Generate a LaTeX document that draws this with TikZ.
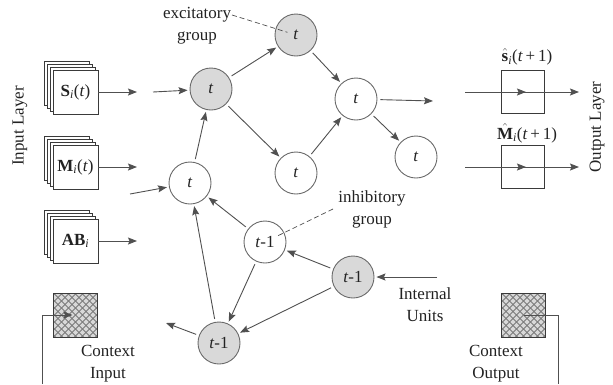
\documentclass[tikz,border=0pt]{standalone}
\usepackage{fontspec}
\setmainfont{Liberation Serif}
\usetikzlibrary{arrows.meta}
\definecolor{linec}{HTML}{505050}
\definecolor{circc}{HTML}{6A6A6A}
\definecolor{grayf}{HTML}{D9D9D9}
\definecolor{boxc}{HTML}{3A3A3A}
\definecolor{txtc}{HTML}{222222}
\definecolor{hatchc}{HTML}{7A7A7A}
\tikzset{
  conn/.style={draw=linec, line width=0.9pt, -{Stealth[length=9pt,width=7pt,inset=1.5pt]}, shorten >=2pt, shorten <=3pt},
  plainline/.style={draw=linec, line width=0.9pt},
  dashline/.style={draw=linec, line width=0.7pt, dash pattern=on 5pt off 3pt},
  neuron/.style={circle, draw=circc, line width=0.9pt, minimum size=42pt, inner sep=0pt, fill=white, text=txtc, font=\fontsize{17}{20}\selectfont},
  grayneuron/.style={neuron, fill=grayf},
  layerbox/.style={draw=boxc, line width=0.8pt, fill=white, minimum width=45pt, minimum height=44pt, inner sep=0pt},
  inbox/.style={layerbox, text=txtc, font=\fontsize{17}{20}\selectfont},
  outbox/.style={draw=boxc, line width=0.8pt, minimum width=43pt, minimum height=43pt, inner sep=0pt},
  lbl/.style={font=\fontsize{17}{22}\selectfont, text=txtc, inner sep=0pt, align=center},
  hatchbox/.style={draw=boxc, line width=0.8pt, fill=grayf, minimum width=44pt, minimum height=44pt, inner sep=0pt,
    path picture={
      \foreach \k in {-63,-56,...,63}{
        \draw[hatchc, line width=0.8pt] ([xshift=\k pt]path picture bounding box.center) ++(-30pt,-30pt) -- ++(60pt,60pt);
        \draw[hatchc, line width=0.8pt] ([xshift=\k pt]path picture bounding box.center) ++(-30pt,30pt) -- ++(60pt,-60pt);
      }
    }},
}
\begin{document}
\begin{tikzpicture}[x=1pt,y=-1pt]
\useasboundingbox (0,0) rectangle (613,384);

% layer labels
\node[lbl, rotate=90] (inlayer) at (20,126) {Input Layer};
\node[lbl, rotate=90] (outlayer) at (597,127) {Output Layer};

% stacked input boxes
\foreach \yy in {92,167,241}{
  \foreach \d in {9,6,3}{
    \node[layerbox] at (75.5-\d,\yy-\d) {};
  }
}
\node[inbox] (sbox) at (75.5,92) {\textbf{S}\textsubscript{\textit{i}}(\textit{t})};
\node[inbox] (mbox) at (75.5,167) {\textbf{M}\textsubscript{\textit{i}}(\textit{t})};
\node[inbox] (abbox) at (75.5,241) {\textbf{AB}\textsubscript{\textit{i}}};

\coordinate (sarr) at (137,92);
\coordinate (marr) at (137,167);
\coordinate (abarr) at (137,241);
\draw[conn, shorten <=0pt, shorten >=0pt] (sbox.east) -- (sarr);
\draw[conn, shorten <=0pt, shorten >=0pt] (mbox.east) -- (marr);
\draw[conn, shorten <=0pt, shorten >=0pt] (abbox.east) -- (abarr);

% neurons
\node[grayneuron] (g1) at (211,89) {\textit{t}};
\node[grayneuron] (g2) at (296,35) {\textit{t}};
\node[neuron] (w1) at (356,99) {\textit{t}};
\node[neuron] (w2) at (296,173) {\textit{t}};
\node[neuron] (w3) at (416,157) {\textit{t}};
\node[neuron] (w4) at (190,183) {\textit{t}};
\node[neuron] (i1) at (265,242) {\textit{t}-1};
\node[grayneuron] (i2) at (353,277) {\textit{t}-1};
\node[grayneuron] (i3) at (219,343) {\textit{t}-1};

% free ends
\coordinate (g1in) at (153,92);
\coordinate (w4in) at (130,194);
\coordinate (w1out) at (433,101);
\coordinate (i3out) at (166,323);
\coordinate (i2in) at (437,277);

\draw[conn, shorten <=0pt] (g1in) -- (g1);
\draw[conn, shorten <=0pt] (w4in) -- (w4);
\draw[conn] (w4) -- (g1);
\draw[conn] (g1) -- (g2);
\draw[conn] (g1) -- (w2);
\draw[conn] (g2) -- (w1);
\draw[conn] (w2) -- (w1);
\draw[conn] (w1) -- (w3);
\draw[conn, shorten >=0pt] (w1) -- (w1out);
\draw[conn] (i1) -- (w4);
\draw[conn] (i1) -- (i3);
\draw[conn] (i2) -- (i1);
\draw[conn] (i2) -- (i3);
\draw[conn] (i3) -- (w4);
\draw[conn, shorten >=0pt] (i3) -- (i3out);
\draw[conn, shorten <=0pt] (i2in) -- (i2);

% group labels
\node[lbl] (excl) at (197,26) {excitatory\\group};
\coordinate (exca) at (232,15);
\draw[dashline, shorten >=9pt] (exca) -- (g2.center);
\node[lbl] (inhl) at (372,209) {inhibitory\\group};
\coordinate (inha) at (333,209);
\draw[dashline, shorten >=14pt] (inha) -- (i1.center);
\node[lbl] (intl) at (425,305) {Internal\\Units};

% output boxes
\node[outbox] (shat) at (523,92) {};
\node[outbox] (mhat) at (523,167) {};
\node[lbl] (shatl) at (527,57) {$\hat{\hbox{\textbf{s}}}$\textsubscript{\textit{i}}(\textit{t}\,+\,1)};
\node[lbl] (mhatl) at (527,133) {$\hat{\hbox{\textbf{M}}}$\textsubscript{\textit{i}}(\textit{t}\,+\,1)};
\coordinate (sin) at (465,92);
\coordinate (sout) at (579,92);
\coordinate (min) at (465,167);
\coordinate (mout) at (579,167);
\draw[conn, shorten <=0pt, shorten >=-3pt] (sin) -- (shat.center);
\draw[conn, shorten <=0pt, shorten >=0pt] (shat.center) -- (sout);
\draw[conn, shorten <=0pt, shorten >=-3pt] (min) -- (mhat.center);
\draw[conn, shorten <=0pt, shorten >=0pt] (mhat.center) -- (mout);

% context units
\node[hatchbox] (cin) at (75.5,315) {};
\node[hatchbox] (cout) at (523.5,315) {};
\node[lbl] (cinl) at (108,364) {Context\\Input};
\node[lbl] (coutl) at (496,364) {Context\\Output};
\coordinate (cinfeed) at (42,384);
\coordinate (coutfeed) at (558,384);
\draw[conn, shorten <=0pt, shorten >=3pt] (cinfeed) |- (cin.center);
\draw[plainline] (cout.center) -| (coutfeed);
\end{tikzpicture}
\end{document}
